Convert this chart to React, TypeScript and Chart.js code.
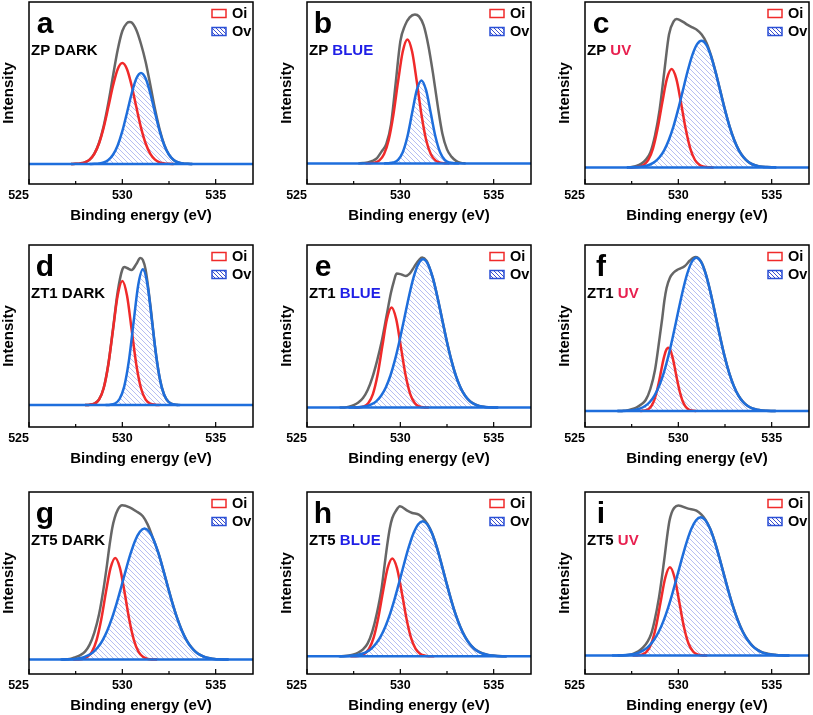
import React, { useEffect, useRef } from 'react';
import { Chart, registerables } from 'chart.js';

Chart.register(...registerables);

type Pt = [number, number];

// ---------- labels ----------
const panelLetters = ['a', 'b', 'c', 'd', 'e', 'f', 'g', 'h', 'i'];
const sampleNames = ['ZP', 'ZP', 'ZP', 'ZT1', 'ZT1', 'ZT1', 'ZT5', 'ZT5', 'ZT5'];
const conditionNames = ['DARK', 'BLUE', 'UV', 'DARK', 'BLUE', 'UV', 'DARK', 'BLUE', 'UV'];
const legendLabels = ['Oi', 'Ov'];
const xTickValues = [525, 530, 535];
const xMinorTickValues = [527.5, 532.5];
const xRange = [525, 537];
const xTitle = 'Binding energy (eV)';
const yTitle = 'Intensity';
// y axis lower limit per panel (intensity units, baseline = 0)
const yAxisMin = [-20, -20.6, -16.6, -22, -19.4, -16, -14.4, -17.7, -18.4];
const ySpan = 182;

// ---------- series: [binding energy (eV), intensity] ----------
const aOi: Pt[] = [[527.25,0],[527.5,0.2],[527.75,0.6],[528,1.7],[528.25,4.4],[528.5,10.2],[528.75,20.5],[529,36.4],[529.25,56.9],[529.5,78.3],[529.75,94.8],[530,101],[530.25,94.8],[530.5,78.3],[530.75,56.9],[531,36.4],[531.25,20.5],[531.5,10.2],[531.75,4.4],[532,1.7],[532.25,0.6],[532.5,0.2],[532.75,0]];
const aOv: Pt[] = [[528.25,0],[528.5,0.2],[528.75,0.5],[529,1.5],[529.25,4],[529.5,9.2],[529.75,18.5],[530,32.8],[530.25,51.3],[530.5,70.5],[530.75,85.4],[531,91],[531.25,85.4],[531.5,70.5],[531.75,51.3],[532,32.8],[532.25,18.5],[532.5,9.2],[532.75,4],[533,1.5],[533.25,0.5],[533.5,0.2],[533.75,0]];
const aEnv: Pt[] = [[527.25,0],[527.5,0.2],[527.75,0.6],[528,1.7],[528.25,4.4],[528.5,10.4],[528.75,21],[529,38],[529.25,61],[529.5,88],[529.75,114],[530,133],[530.25,141],[530.4,142],[530.5,141.5],[530.75,134],[531,120],[531.25,102],[531.5,79],[531.75,55],[532,34.5],[532.25,19.1],[532.5,9.4],[532.75,4],[533,1.5],[533.25,0.5],[533.5,0.2],[533.75,0]];

const bOi: Pt[] = [[528.13,0],[528.38,0.2],[528.63,0.8],[528.88,3],[529.13,9.4],[529.38,23.7],[529.63,48.9],[529.88,82],[530.13,111.8],[530.38,124],[530.63,111.8],[530.88,82],[531.13,48.9],[531.38,23.7],[531.63,9.4],[531.88,3],[532.13,0.8],[532.38,0.2],[532.63,0]];
const bOv: Pt[] = [[529.13,0],[529.38,0.2],[529.63,0.9],[529.88,3.6],[530.13,11.2],[530.38,26.9],[530.63,50.3],[530.88,73.2],[531.13,83],[531.38,73.2],[531.63,50.3],[531.88,26.9],[532.13,11.2],[532.38,3.6],[532.63,0.9],[532.88,0.2],[533.13,0]];
const bEnv: Pt[] = [[527.75,0],[528,0.4],[528.25,1],[528.5,2.5],[528.75,5.3],[529,12],[529.25,19.5],[529.5,39],[529.75,80],[530,122],[530.25,138],[530.5,146],[530.78,149],[531,147],[531.25,138],[531.5,118],[531.75,90],[532,58],[532.25,30],[532.5,14],[532.75,6.5],[533,2.3],[533.25,0.5],[533.5,0]];

const cOi: Pt[] = [[527.39,0],[527.64,0.1],[527.89,0.6],[528.14,2.4],[528.39,7.4],[528.64,18.8],[528.89,38.8],[529.14,65],[529.39,88.7],[529.64,98.3],[529.89,88.7],[530.14,65],[530.39,38.8],[530.64,18.8],[530.89,7.4],[531.14,2.4],[531.39,0.6],[531.64,0.1],[531.89,0]];
const cOv: Pt[] = [[527.24,0],[527.49,0.1],[527.74,0.3],[527.99,0.6],[528.24,1.4],[528.49,2.9],[528.74,5.6],[528.99,10.1],[529.24,17.1],[529.49,27.4],[529.74,41.1],[529.99,58],[530.24,76.8],[530.49,95.6],[530.74,111.8],[530.99,122.8],[531.24,126.7],[531.49,122.8],[531.74,111.8],[531.99,95.6],[532.24,76.8],[532.49,58],[532.74,41.1],[532.99,27.4],[533.24,17.1],[533.49,10.1],[533.74,5.6],[533.99,2.9],[534.24,1.4],[534.49,0.6],[534.74,0.3],[534.99,0.1],[535.24,0]];
const cEnv: Pt[] = [[527.25,0],[527.5,0.5],[527.75,1.5],[528,3.5],[528.25,7.5],[528.5,15],[528.75,32],[529,58],[529.25,96],[529.5,133],[529.75,146],[529.91,148.3],[530,148],[530.25,145.5],[530.5,142.5],[530.75,140],[531,137.5],[531.25,133],[531.5,125],[531.75,112],[532,95.3],[532.25,76.5],[532.5,57.7],[532.75,40.8],[533,27.2],[533.25,17],[533.5,10],[533.75,5.5],[534,2.9],[534.25,1.4],[534.5,0.6],[534.75,0.3],[535,0.1],[535.25,0]];

const dOi: Pt[] = [[528,0],[528.25,0.3],[528.5,1.4],[528.75,5.4],[529,16.8],[529.25,40.3],[529.5,75.2],[529.75,109.4],[530,124],[530.25,109.4],[530.5,75.2],[530.75,40.3],[531,16.8],[531.25,5.4],[531.5,1.4],[531.75,0.3],[532,0]];
const dOv: Pt[] = [[529.1,0],[529.35,0.3],[529.6,1.5],[529.85,6],[530.1,18.4],[530.35,44.1],[530.6,82.3],[530.85,119.8],[531.1,135.7],[531.35,119.8],[531.6,82.3],[531.85,44.1],[532.1,18.4],[532.35,6],[532.6,1.5],[532.85,0.3],[533.1,0]];
const dEnv: Pt[] = [[528,0],[528.25,0.3],[528.5,1.4],[528.75,5.5],[529,17],[529.25,41],[529.5,76],[529.75,113],[530,135.5],[530.12,138],[530.25,137],[530.5,135],[530.75,141],[530.96,147],[531.1,145],[531.25,135],[531.5,100],[531.75,58.6],[532,27],[532.25,9.8],[532.5,2.8],[532.75,0.6],[533,0]];

const eOi: Pt[] = [[527.53,0],[527.78,0.2],[528.03,1.1],[528.28,4.4],[528.53,13.5],[528.78,32.5],[529.03,60.7],[529.28,88.3],[529.53,100],[529.78,88.3],[530.03,60.7],[530.28,32.5],[530.53,13.5],[530.78,4.4],[531.03,1.1],[531.28,0.2],[531.53,0]];
const eOv: Pt[] = [[527.22,0],[527.47,0.1],[527.72,0.3],[527.97,0.8],[528.22,1.6],[528.47,3.4],[528.72,6.5],[528.97,11.8],[529.22,20.1],[529.47,32.1],[529.72,48.2],[529.97,67.9],[530.22,89.9],[530.47,111.9],[530.72,130.9],[530.97,143.7],[531.22,148.3],[531.47,143.7],[531.72,130.9],[531.97,111.9],[532.22,89.9],[532.47,67.9],[532.72,48.2],[532.97,32.1],[533.22,20.1],[533.47,11.8],[533.72,6.5],[533.97,3.4],[534.22,1.6],[534.47,0.8],[534.72,0.3],[534.97,0.1],[535.22,0]];
const eEnv: Pt[] = [[526.75,0],[527,0.2],[527.25,1],[527.5,2.5],[527.75,5],[528,9.5],[528.25,17.5],[528.5,30],[528.75,46.5],[529,66],[529.25,90.5],[529.5,115],[529.65,126],[529.8,134],[530,133.5],[530.28,131.7],[530.5,134],[530.75,141],[531,147.5],[531.17,150],[531.4,147],[531.5,143],[531.75,129.3],[532,109.7],[532.25,87.5],[532.5,65.6],[532.75,46.2],[533,30.5],[533.25,19],[533.5,11.1],[533.75,6.1],[534,3.2],[534.25,1.5],[534.5,0.7],[534.75,0.3],[535,0.1],[535.25,0]];

const fOi: Pt[] = [[527.96,0],[528.085,0.2],[528.21,0.5],[528.335,1.2],[528.46,2.8],[528.585,5.8],[528.71,10.9],[528.835,18.7],[528.96,29],[529.085,40.8],[529.21,52.1],[529.335,60.3],[529.46,63.3],[529.585,60.3],[529.71,52.1],[529.835,40.8],[529.96,29],[530.085,18.7],[530.21,10.9],[530.335,5.8],[530.46,2.8],[530.585,1.2],[530.71,0.5],[530.835,0.2],[530.96,0]];
const fOv: Pt[] = [[526.72,0],[526.97,0.1],[527.22,0.3],[527.47,0.6],[527.72,1.3],[527.97,2.6],[528.22,5],[528.47,9],[528.72,15.4],[528.97,25],[529.22,38.2],[529.47,55.2],[529.72,75.5],[529.97,97.4],[530.22,118.8],[530.47,136.9],[530.72,149],[530.97,153.3],[531.22,149],[531.47,136.9],[531.72,118.8],[531.97,97.4],[532.22,75.5],[532.47,55.2],[532.72,38.2],[532.97,25],[533.22,15.4],[533.47,9],[533.72,5],[533.97,2.6],[534.22,1.3],[534.47,0.6],[534.72,0.3],[534.97,0.1],[535.22,0]];
const fEnv: Pt[] = [[526.75,0],[527,0.1],[527.25,0.5],[527.5,1.7],[527.75,3.5],[528,6.5],[528.25,11],[528.5,22],[528.75,41],[529,73.7],[529.14,93],[529.25,110],[529.37,123],[529.55,133.3],[529.75,138.5],[530,141.7],[530.35,145],[530.62,150.5],[530.92,154],[531.22,149.3],[531.47,137.2],[531.72,119],[531.97,97.6],[532.22,75.7],[532.47,55.4],[532.72,38.3],[532.97,25.1],[533.22,15.5],[533.47,9.1],[533.72,5],[533.97,2.6],[534.22,1.3],[534.47,0.6],[534.72,0.3],[534.97,0.1],[535.22,0]];

const gOi: Pt[] = [[527.37,0],[527.62,0.1],[527.87,0.6],[528.12,2.5],[528.37,7.7],[528.62,19.5],[528.87,40.1],[529.12,67.3],[529.37,91.7],[529.62,101.7],[529.87,91.7],[530.12,67.3],[530.37,40.1],[530.62,19.5],[530.87,7.7],[531.12,2.5],[531.37,0.6],[531.62,0.1],[531.87,0]];
const gOv: Pt[] = [[526.69,0],[526.94,0.1],[527.19,0.3],[527.44,0.6],[527.69,1.3],[527.94,2.4],[528.19,4.4],[528.44,7.5],[528.69,12.3],[528.94,19.3],[529.19,28.9],[529.44,41.2],[529.69,56],[529.94,72.6],[530.19,89.8],[530.44,105.9],[530.69,119.2],[530.94,127.9],[531.19,131],[531.44,127.9],[531.69,119.2],[531.94,105.9],[532.19,89.8],[532.44,72.6],[532.69,56],[532.94,41.2],[533.19,28.9],[533.44,19.3],[533.69,12.3],[533.94,7.5],[534.19,4.4],[534.44,2.4],[534.69,1.3],[534.94,0.6],[535.19,0.3],[535.44,0.1],[535.69,0]];
const gEnv: Pt[] = [[526.75,0],[527,0.3],[527.25,0.8],[527.5,2.5],[527.75,4.5],[528,8],[528.25,15],[528.5,27],[528.75,45],[529,71.7],[529.18,95],[529.32,115],[529.46,131.7],[529.59,141.7],[529.76,150],[529.99,154.3],[530.39,152.3],[530.74,148.3],[531.1,143.3],[531.36,135],[531.6,123.5],[531.94,106.2],[532.19,90],[532.44,72.8],[532.69,56.2],[532.94,41.4],[533.19,29.1],[533.44,19.5],[533.69,12.5],[533.94,7.6],[534.19,4.5],[534.44,2.5],[534.69,1.3],[534.94,0.6],[535.19,0.3],[535.44,0.1],[535.69,0]];

const hOi: Pt[] = [[527.32,0],[527.57,0.1],[527.82,0.6],[528.07,2.4],[528.32,7.4],[528.57,18.7],[528.82,38.6],[529.07,64.6],[529.32,88.1],[529.57,97.7],[529.82,88.1],[530.07,64.6],[530.32,38.6],[530.57,18.7],[530.82,7.4],[531.07,2.4],[531.32,0.6],[531.57,0.1],[531.82,0]];
const hOv: Pt[] = [[526.7,0],[526.95,0.1],[527.2,0.3],[527.45,0.7],[527.7,1.3],[527.95,2.5],[528.2,4.5],[528.45,7.7],[528.7,12.7],[528.95,19.9],[529.2,29.8],[529.45,42.4],[529.7,57.7],[529.95,74.8],[530.2,92.5],[530.45,109.1],[530.7,122.8],[530.95,131.9],[531.2,135],[531.45,131.9],[531.7,122.8],[531.95,109.1],[532.2,92.5],[532.45,74.8],[532.7,57.7],[532.95,42.4],[533.2,29.8],[533.45,19.9],[533.7,12.7],[533.95,7.7],[534.2,4.5],[534.45,2.5],[534.7,1.3],[534.95,0.7],[535.2,0.3],[535.45,0.1],[535.7,0]];
const hEnv: Pt[] = [[526.75,0],[527,0.2],[527.25,0.7],[527.5,1.8],[527.75,3.8],[528,7],[528.25,13],[528.5,25],[528.75,43.5],[529,68.3],[529.16,91.7],[529.3,111.7],[529.44,128.3],[529.57,138.3],[529.75,145],[529.98,150],[530.37,145.7],[530.64,143.3],[530.99,141.7],[531.2,138.5],[531.45,132.3],[531.7,123.1],[531.95,109.4],[532.2,92.8],[532.45,75.1],[532.7,58],[532.95,42.6],[533.2,30],[533.45,20.1],[533.7,12.9],[533.95,7.8],[534.2,4.6],[534.45,2.5],[534.7,1.3],[534.95,0.7],[535.2,0.3],[535.45,0.1],[535.7,0]];

const iOi: Pt[] = [[527.55,0],[527.8,0.2],[528.05,1],[528.3,3.9],[528.55,11.9],[528.8,28.7],[529.05,53.6],[529.3,77.9],[529.55,88.3],[529.8,77.9],[530.05,53.6],[530.3,28.7],[530.55,11.9],[530.8,3.9],[531.05,1],[531.3,0.2],[531.55,0]];
const iOv: Pt[] = [[526.45,0],[526.7,0.1],[526.95,0.3],[527.2,0.5],[527.45,1.1],[527.7,2],[527.95,3.5],[528.2,6.1],[528.45,10],[528.7,15.8],[528.95,23.8],[529.2,34.5],[529.45,47.8],[529.7,63.3],[529.95,80.4],[530.2,97.7],[530.45,113.8],[530.7,126.8],[530.95,135.3],[531.2,138.3],[531.45,135.3],[531.7,126.8],[531.95,113.8],[532.2,97.7],[532.45,80.4],[532.7,63.3],[532.95,47.8],[533.2,34.5],[533.45,23.8],[533.7,15.8],[533.95,10],[534.2,6.1],[534.45,3.5],[534.7,2],[534.95,1.1],[535.2,0.5],[535.45,0.3],[535.7,0.1],[535.95,0]];
const iEnv: Pt[] = [[526.75,0],[527,0.1],[527.33,0.7],[527.6,2],[527.86,4.3],[528.1,8],[528.36,14.3],[528.55,22],[528.72,34.3],[528.96,57.7],[529.14,81],[529.28,101],[529.39,117.7],[529.52,134.3],[529.64,142.7],[529.78,147.7],[530,150],[530.53,147],[530.97,145],[531.24,141],[531.45,136],[531.7,127.1],[531.95,114.1],[532.2,98],[532.45,80.7],[532.7,63.6],[532.95,48.1],[533.2,34.8],[533.45,24.1],[533.7,16.1],[533.95,10.3],[534.2,6.4],[534.45,3.8],[534.7,2.3],[534.95,1.4],[535.2,0.8],[535.45,0.3],[535.7,0.1],[535.95,0]];

const oiSeries = [aOi, bOi, cOi, dOi, eOi, fOi, gOi, hOi, iOi];
const ovSeries = [aOv, bOv, cOv, dOv, eOv, fOv, gOv, hOv, iOv];
const envSeries = [aEnv, bEnv, cEnv, dEnv, eEnv, fEnv, gEnv, hEnv, iEnv];

// ---------- styles / layout ----------
const RED = '#f02a2a';
const BLUE = '#1e6edc';
const GRAY = '#666666';
const HATCH = 'rgba(80,100,225,0.42)';
const LEGEND_BLUE = '#2a4fd6';
const CONDITION_COLOR: Record<string, string> = { DARK: '#000000', BLUE: '#1f1fe6', UV: '#e8204f' };
const FONT = '"Liberation Sans", Arial, Helvetica, sans-serif';
const COL_LEFT = [0, 278, 556];
const ROW_TOP = [0, 243, 490];
const CANVAS_W = 257;
const CANVAS_H = 226;

function makeHatch(color: string, size: number): CanvasPattern | string {
  const pc = document.createElement('canvas');
  pc.width = size;
  pc.height = size;
  const p = pc.getContext('2d');
  if (!p) return color;
  p.strokeStyle = color;
  p.lineWidth = 1;
  for (const o of [-size, 0, size]) {
    p.beginPath();
    p.moveTo(o, 0);
    p.lineTo(o + size, size);
    p.stroke();
  }
  const pat = p.createPattern(pc, 'repeat');
  return pat || color;
}

const toXY = (pts: Pt[]) => pts.map(([x, y]) => ({ x, y }));

function Panel({ idx }: { idx: number }) {
  const ref = useRef<HTMLCanvasElement>(null);
  useEffect(() => {
    const canvas = ref.current;
    if (!canvas) return;
    const hatch = makeHatch(HATCH, 5);
    const legendHatch = makeHatch('rgba(40,60,200,0.9)', 4);

    const overlay = {
      id: 'xpsOverlay',
      afterDraw(chart: any) {
        const { ctx, chartArea } = chart;
        const { left, top, right, bottom } = chartArea;
        const xs = chart.scales.x;
        ctx.save();
        ctx.strokeStyle = '#000';
        ctx.lineWidth = 1.5;
        ctx.strokeRect(left, top, right - left, bottom - top);
        ctx.lineWidth = 1.2;
        ctx.beginPath();
        for (const v of xTickValues) {
          const px = xs.getPixelForValue(v);
          ctx.moveTo(px, bottom);
          ctx.lineTo(px, bottom - 5);
        }
        for (const v of xMinorTickValues) {
          const px = xs.getPixelForValue(v);
          ctx.moveTo(px, bottom);
          ctx.lineTo(px, bottom - 3);
        }
        ctx.stroke();

        ctx.fillStyle = '#000';
        ctx.textBaseline = 'alphabetic';
        ctx.font = `bold 12.5px ${FONT}`;
        for (const v of xTickValues) {
          const px = xs.getPixelForValue(v);
          ctx.textAlign = v <= xs.min ? 'right' : 'center';
          ctx.fillText(String(v), px, bottom + 14.5);
        }

        ctx.font = `bold 30px ${FONT}`;
        ctx.textAlign = 'center';
        ctx.fillText(panelLetters[idx], left + 16, top + 31);

        ctx.font = `bold 15px ${FONT}`;
        ctx.textAlign = 'left';
        const first = sampleNames[idx] + ' ';
        ctx.fillText(first, left + 2, top + 53);
        const w = ctx.measureText(first).width;
        ctx.fillStyle = CONDITION_COLOR[conditionNames[idx]];
        ctx.fillText(conditionNames[idx], left + 2 + w, top + 53);

        ctx.font = `bold 14.5px ${FONT}`;
        legendLabels.forEach((lab, k) => {
          const by = top + 7.5 + 18 * k;
          const bx = right - 41;
          if (k === 1) {
            ctx.fillStyle = legendHatch;
            ctx.fillRect(bx, by, 14, 8);
            ctx.strokeStyle = LEGEND_BLUE;
          } else {
            ctx.strokeStyle = RED;
          }
          ctx.lineWidth = 1.5;
          ctx.strokeRect(bx, by, 14, 8);
          ctx.fillStyle = '#000';
          ctx.fillText(lab, right - 21, top + 16 + 18 * k);
        });
        ctx.restore();
      },
    };

    const line = (data: Pt[], color: string) => ({
      data: toXY(data),
      borderColor: color,
      borderWidth: 2.5,
      pointRadius: 0,
      fill: false,
      cubicInterpolationMode: 'monotone' as const,
    });

    const chart = new Chart(canvas, {
      type: 'line',
      data: {
        datasets: [
          {
            label: 'baseline',
            data: [{ x: xRange[0], y: 0 }, { x: xRange[1], y: 0 }],
            borderColor: BLUE,
            borderWidth: 2.5,
            pointRadius: 0,
            fill: false,
          },
          { label: 'Ov', ...line(ovSeries[idx], BLUE) },
          { label: 'Oi', ...line(oiSeries[idx], RED) },
          { label: 'Envelope', ...line(envSeries[idx], GRAY) },
          {
            label: 'Ov area',
            data: toXY(ovSeries[idx]),
            borderColor: 'rgba(0,0,0,0)',
            borderWidth: 0,
            pointRadius: 0,
            backgroundColor: hatch as any,
            fill: 'origin',
            cubicInterpolationMode: 'monotone',
          },
        ],
      },
      options: {
        animation: false,
        responsive: false,
        events: [],
        layout: { padding: { top: 2, right: 4, left: 0, bottom: 0 } },
        plugins: { legend: { display: false }, tooltip: { enabled: false } },
        scales: {
          x: {
            type: 'linear',
            min: xRange[0],
            max: xRange[1],
            grid: { display: false },
            border: { display: false },
            ticks: { display: false },
            title: {
              display: true,
              text: xTitle,
              color: '#000',
              font: { family: FONT, size: 15, weight: 'bold' },
              padding: { top: 0, bottom: 1 },
            },
            afterFit: (s: any) => {
              s.height = 42;
            },
          },
          y: {
            type: 'linear',
            min: yAxisMin[idx],
            max: yAxisMin[idx] + ySpan,
            grid: { display: false },
            border: { display: false },
            ticks: { display: false },
            title: {
              display: true,
              text: yTitle,
              color: '#000',
              font: { family: FONT, size: 15, weight: 'bold' },
              padding: { top: 0, bottom: 0 },
            },
            afterFit: (s: any) => {
              s.width = 29;
            },
          },
        },
      } as any,
      plugins: [overlay],
    });
    return () => chart.destroy();
  }, [idx]);

  const col = idx % 3;
  const row = Math.floor(idx / 3);
  return (
    <canvas
      ref={ref}
      width={CANVAS_W}
      height={CANVAS_H}
      style={{
        position: 'absolute',
        left: COL_LEFT[col],
        top: ROW_TOP[row],
        width: CANVAS_W,
        height: CANVAS_H,
      }}
    />
  );
}

export default function App() {
  return (
    <div
      style={{
        position: 'absolute',
        left: 0,
        top: 0,
        width: 813,
        height: 715,
        overflow: 'hidden',
        background: '#ffffff',
      }}
    >
      {panelLetters.map((_, i) => (
        <Panel key={i} idx={i} />
      ))}
    </div>
  );
}
